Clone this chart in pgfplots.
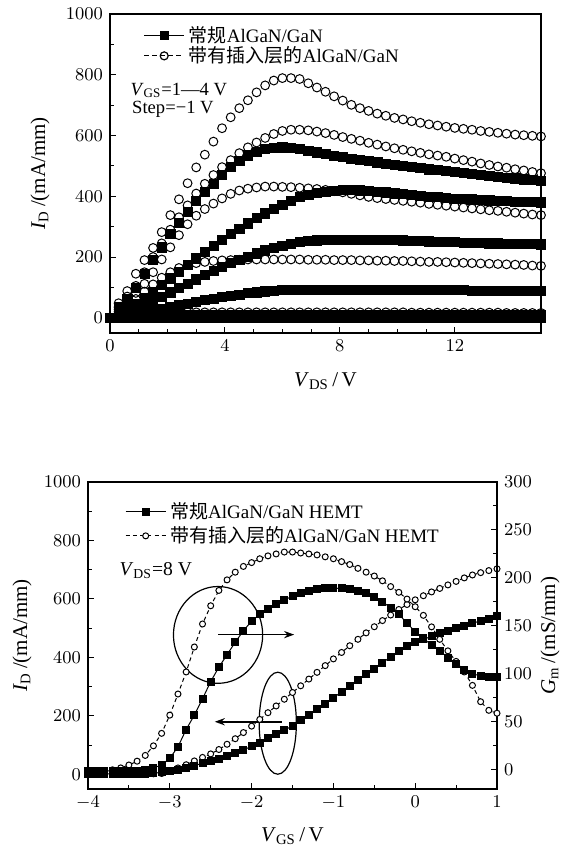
\documentclass[border=0pt]{standalone}
\usepackage{fontspec}
\setmainfont{Liberation Serif}
\newfontfamily\cjk{Noto Sans CJK SC}
\usepackage{pgfplots}
\usepackage{pgfplotstable}
\pgfplotsset{compat=1.18}
\usetikzlibrary{arrows.meta}

% output curves, V_GS = 1 ... -4 V (s = conventional, c = with insert layer)
\pgfplotstableread{
x sA sB sC sD sE sF cA cB cC cD cE cF
0.0 0 0 0 0 0 0 0 0 0 0 0 0
0.3 35 14 8 3 4 0 48 35 28 20 8 1
0.6 62 30 18 7 6 0 88 70 55 40 13 2
0.9 100 47 30 12 7 0 145 105 82 62 16 2
1.2 145 66 42 17 8 0 190 150 112 86 17 2
1.5 190 86 55 23 8 0 230 200 150 110 18 2
1.8 232 108 69 29 8 0 282 245 192 132 18 2
2.1 276 130 84 35 8 0 338 290 232 150 18 2
2.4 312 152 99 41 8 0 390 331 272 164 18 2
2.7 348 174 113 47 8 0 443 370 308 174 18 2
3.0 384 196 127 53 8 0 495 409 336 180 18 2
3.3 414 217 141 58 8 0 537 441 358 184 18 2
3.6 442 238 155 63 8 0 580 470 376 187 18 2
3.9 470 258 168 68 8 0 624 496 393 189 18 2
4.2 497 276 180 73 8 0 660 519 408 190 18 2
4.5 518 294 191 77 8 0 690 542 419 191 18 2
4.8 535 311 202 81 8 0 716 561 425 192 18 2
5.1 547 328 212 84 8 0 742 577 429 192 18 2
5.4 555 344 222 87 8 0 765 592 432 192 18 2
5.7 560 359 231 89 8 0 781 605 432 192 18 2
6.0 561 373 238 91 8 0 789 615 431 192 18 2
6.3 559 386 244 92 8 0 789 619 430 192 18 2
6.6 556 397 249 93 8 0 786 619 428 192 18 2
6.9 551 405 253 93 8 0 772 617 426 191 18 2
7.2 545 411 255 93 8 0 758 613 424 191 18 2
7.5 540 416 257 93 8 0 744 608 421 191 18 2
7.8 534 419 258 93 8 0 729 602 417 190 18 2
8.1 529 421 258 93 8 0 715 595 413 190 18 2
8.4 524 421 258 93 8 0 701 589 408 190 18 2
8.7 520 420 258 93 8 0 690 583 403 189 18 2
9.0 516 418 257 93 8 0 681 576 398 189 18 2
9.3 512 416 257 92 8 0 672 570 394 188 18 2
9.6 508 413 256 92 8 0 665 564 391 188 18 2
9.9 504 410 256 92 8 0 658 558 388 187 18 2
10.2 500 407 255 92 8 0 653 553 385 187 18 2
10.5 496 404 254 92 8 0 647 548 382 186 17 2
10.8 493 401 253 92 8 0 642 543 379 185 17 2
11.1 489 399 252 91 8 0 637 538 375 184 17 2
11.4 486 397 251 91 8 0 633 534 372 184 17 2
11.7 483 395 250 91 8 0 629 530 369 183 17 2
12.0 480 393 249 91 8 0 625 524 366 182 17 2
12.3 477 391 248 91 8 0 622 519 363 181 17 2
12.6 474 390 247 90 8 0 619 514 360 180 17 2
12.9 471 388 246 90 8 0 615 508 357 179 17 2
13.2 468 387 245 90 8 0 612 503 354 178 17 2
13.5 465 385 245 90 8 0 609 498 352 177 17 2
13.8 462 384 244 89 8 0 606 494 349 176 16 2
14.1 459 383 244 89 8 0 603 489 346 175 16 2
14.4 456 382 243 89 8 0 601 485 343 174 16 2
14.7 453 381 243 89 8 0 599 480 340 172 16 2
15.0 450 380 242 88 8 0 597 476 338 171 16 2
}\outdata

% transfer curves at V_DS = 8 V: I_D (mA/mm) and G_m (mS/mm)
\pgfplotstableread{
x Ids Idc Gms Gmc
-4.0 2 2 -1 -1
-3.9 2 2 -1 -1
-3.8 2 2 -1 -1
-3.7 2 2 -1 0
-3.6 2 2 -1 2
-3.5 2 2 -1 5
-3.4 2 2 -1 9
-3.3 3 2 0 15
-3.2 4 2 2 25
-3.1 7 3 5 38
-3.0 11 12 12 57
-2.9 16 22 24 79
-2.8 23 33 42 102
-2.7 30 46 57 128
-2.6 38 58 74 152
-2.5 46 70 92 171
-2.4 54 85 107 187
-2.3 63 103 120 198
-2.2 73 122 133 206
-2.1 84 143 145 212
-2.0 96 165 155 216
-1.9 109 188 162 220
-1.8 123 211 168 223
-1.7 137 234 173 225
-1.6 151 257 177 227
-1.5 166 280 181 227
-1.4 185 303 184 226
-1.3 204 326 186 225
-1.2 223 349 188 224
-1.1 242 372 189 222
-1.0 262 395 189.5 220
-0.9 282 417 189 217
-0.8 302 440 188 214
-0.7 322 462 186 210
-0.6 342 484 184 206
-0.5 362 505 180 202
-0.4 382 526 175 197
-0.3 402 545 169 191
-0.2 421 564 162 185
-0.1 438 581 153 178
0.0 452 597 144 170
0.1 462 611 137 161
0.2 472 624 130 149
0.3 482 636 124 136
0.4 491 648 117 124
0.5 500 660 110 113
0.6 509 672 104 102
0.7 517 682 100 88
0.8 525 690 98 71
0.9 533 697 97 62
1.0 541 703 97 59
}\transdata

\pgfplotsset{
  base/.style={scale only axis, axis line style={line width=0.7pt},
    tick style={black, line width=0.5pt}, major tick length=3pt, minor tick length=1.8pt,
    tick align=inside,
    /pgf/number format/1000 sep={},
    ticklabel style={font=\fontsize{9.5}{11}\selectfont},
    label style={font=\fontsize{10.5}{12}\selectfont},
    legend style={draw=none, fill=none, inner sep=0pt, font=\fontsize{9.5}{11}\selectfont},
    legend cell align=left,
    legend image code/.code={\draw[mark repeat=2,mark phase=2,#1] plot coordinates {(0pt,0pt) (10pt,0pt) (20pt,0pt)};}},
  sqT/.style={only marks, mark=square*, mark size=2.3pt, mark options={draw=black, fill=black, line width=0.3pt}},
  ciT/.style={only marks, mark=o, mark size=2.2pt, mark options={draw=black, line width=0.5pt}},
  sqB/.style={black, line width=0.5pt, mark=square*, mark size=1.75pt, mark options={solid, fill=black}},
  ciB/.style={black, line width=0.5pt, dash pattern=on 2pt off 1.6pt, mark=*, mark size=1.5pt, mark options={solid, fill=white}},
}

\begin{document}
\begin{tikzpicture}
\path[use as bounding box] (0,0) rectangle (284pt,423.5pt);

% ---- output characteristics
\begin{axis}[base, at={(55pt,257pt)}, anchor=south west, width=215.5pt, height=159.5pt,
  xmin=0, xmax=15, ymin=-50, ymax=1000,
  xtick={0,4,8,12}, minor x tick num=3, ytick={0,200,...,1000}, minor y tick num=1,
  xtick pos=bottom, ytick pos=left,
  xlabel={\textit{V}\textsubscript{DS}\,/\,V},
  ylabel={\textit{I}\textsubscript{D}\,/(mA/mm)},
  xlabel style={at={(axis description cs:0.5,0)}, anchor=center, yshift=-24pt},
  ylabel style={at={([xshift=-35pt]axis description cs:0,0.5)}, anchor=center},
  legend style={at={(axis description cs:0.077,0.975)}, anchor=north west, row sep=-3.5pt}]
\addlegendimage{black, line width=0.6pt, mark=square*, mark size=2pt}
\addlegendentry{{\cjk 常规}AlGaN/GaN}
\addlegendimage{black, line width=0.6pt, dash pattern=on 2.5pt off 1.5pt, mark=o, mark size=2pt, mark options={solid}}
\addlegendentry{{\cjk 带有插入层的}AlGaN/GaN}
\foreach \c in {sA,sB,sC,sD,sE,sF} {\addplot[sqT, forget plot] table[x=x, y=\c] {\outdata};}
\foreach \c in {cA,cB,cC,cD,cE,cF} {\addplot[ciT, forget plot] table[x=x, y=\c] {\outdata};}
\node[anchor=west, inner sep=1pt, font=\fontsize{9.3}{10}\selectfont] at (axis description cs:0.042,0.76) {\textit{V}\textsubscript{GS}=1—4 V};
\node[anchor=west, inner sep=1pt, font=\fontsize{9.3}{10}\selectfont] at (axis description cs:0.046,0.702) {Step=−1 V};
\end{axis}

% ---- transfer characteristics, I_D on the left
\begin{axis}[base, at={(44pt,29pt)}, anchor=south west, width=204.5pt, height=153.5pt,
  xmin=-4, xmax=1, ymin=-50, ymax=1000,
  xtick={-4,...,1}, minor x tick num=1, ytick={0,200,...,1000}, minor y tick num=1,
  xtick pos=bottom, ytick pos=left,
  xlabel={\textit{V}\textsubscript{GS}\,/\,V},
  ylabel={\textit{I}\textsubscript{D}\,/(mA/mm)},
  xlabel style={at={(axis description cs:0.5,0)}, anchor=center, yshift=-23.5pt},
  ylabel style={at={([xshift=-33pt]axis description cs:0,0.5)}, anchor=center},
  legend style={at={(axis description cs:0.09,0.948)}, anchor=north west, row sep=-1.5pt}]
\addlegendimage{sqB}
\addlegendentry{{\cjk 常规}AlGaN/GaN HEMT}
\addlegendimage{ciB}
\addlegendentry{{\cjk 带有插入层的}AlGaN/GaN HEMT}
\addplot[ciB, forget plot] table[x=x, y=Idc] {\transdata};
\addplot[sqB, forget plot] table[x=x, y=Ids] {\transdata};
\node[anchor=west, font=\fontsize{9.8}{11}\selectfont] at (axis description cs:0.06,0.713) {\textit{V}\textsubscript{DS}=8 V};
\draw[line width=0.6pt] (axis cs:-2.41,477) ellipse [x radius=22.3pt, y radius=24.2pt];
\draw[line width=0.6pt] (axis cs:-1.68,175) ellipse [x radius=9.3pt, y radius=25.5pt];
\draw[line width=0.8pt, -{Stealth[length=5pt, width=3.6pt]}] (axis cs:-2.41,478) -- (axis cs:-1.48,478);
\draw[line width=0.8pt, -{Stealth[length=5pt, width=3.6pt]}] (axis cs:-1.63,180) -- (axis cs:-2.45,180);
\end{axis}

% ---- G_m on the right
\begin{axis}[base, at={(44pt,29pt)}, anchor=south west, width=204.5pt, height=153.5pt,
  xmin=-4, xmax=1, ymin=-20, ymax=300,
  axis x line=none, axis y line*=right,
  ytick={0,50,...,300}, minor y tick num=1,
  ylabel={\textit{G}\textsubscript{m}\,/(mS/mm)},
  ylabel style={at={([xshift=26.5pt]axis description cs:1,0.5)}, anchor=center}]
\addplot[ciB] table[x=x, y=Gmc] {\transdata};
\addplot[sqB] table[x=x, y=Gms] {\transdata};
\end{axis}
\end{tikzpicture}
\end{document}
